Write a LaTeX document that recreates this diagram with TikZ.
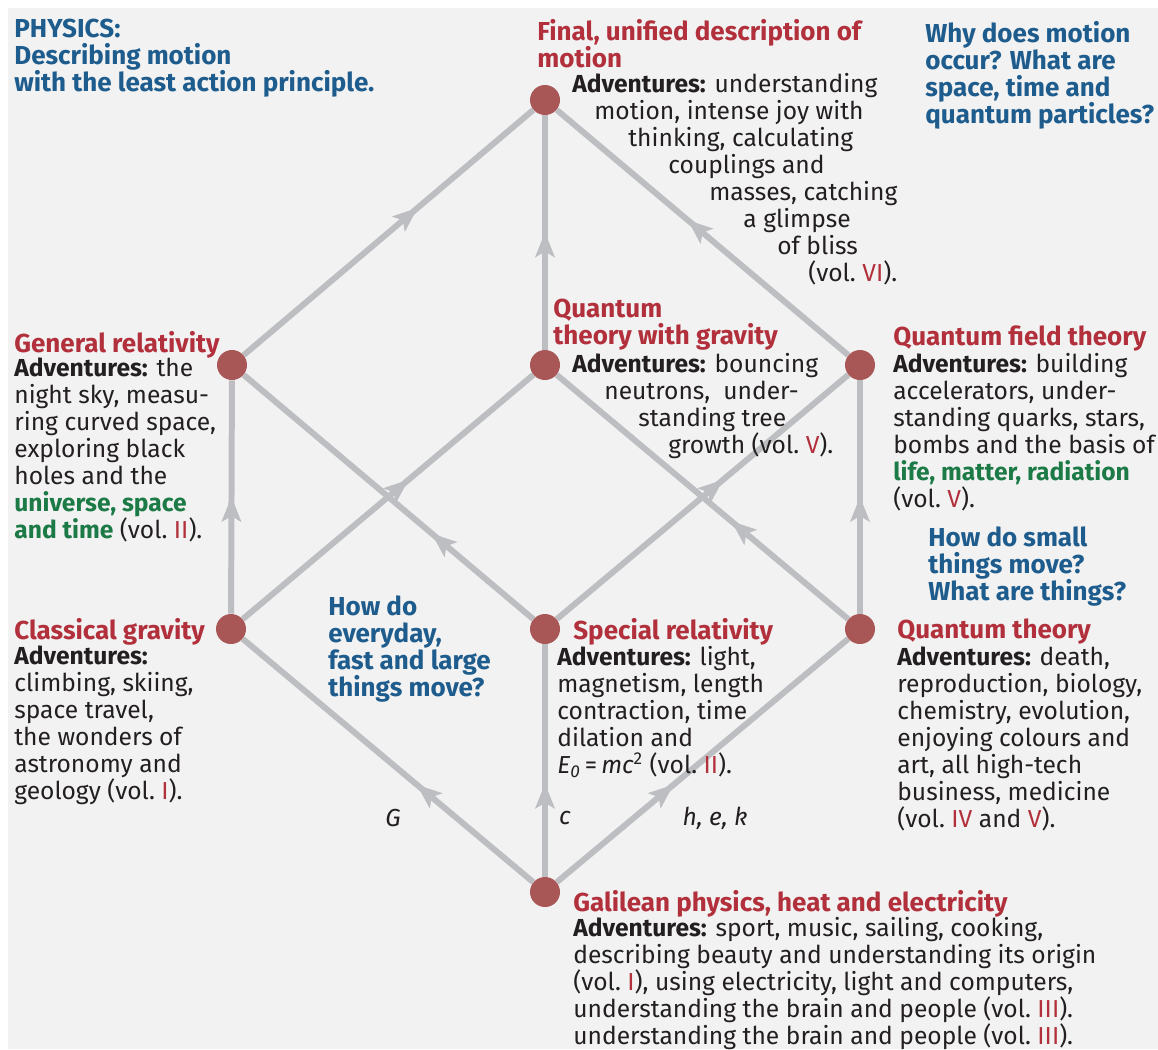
\documentclass[tikz,border=0pt]{standalone}
\usepackage{fontspec}
\setmainfont{Fira Sans}
\usetikzlibrary{arrows.meta,decorations.markings,backgrounds}
\definecolor{bgcol}{HTML}{F2F2F2}
\definecolor{linecol}{HTML}{BDBEC2}
\definecolor{dotcol}{HTML}{A85656}
\definecolor{headred}{HTML}{B2303B}
\definecolor{askblue}{HTML}{1D5C8C}
\definecolor{keygreen}{HTML}{1B7A45}
\definecolor{txtcol}{HTML}{231F20}
\newlength\pxl
\setlength\pxl{0.02cm}
\newcommand\vnr[1]{\textcolor{headred}{#1}}
\newcommand\adv{\textbf{Adventures:}}
\newcommand\key[1]{\textcolor{keygreen}{\bfseries #1}}
\newcommand\ind[1]{\hspace*{#1\pxl}}
\begin{document}
\begin{tikzpicture}[x=0.02cm,y=-0.02cm,
  every node/.style={font=\fontsize{14}{15.37}\selectfont,text=txtcol},
  txt/.style={anchor=north west,align=left,inner sep=0pt},
  head/.style={txt,text=headred,font=\fontsize{14.8}{15.37}\selectfont\bfseries},
  ask/.style={txt,text=askblue,font=\fontsize{14.8}{15.37}\selectfont\bfseries},
  const/.style={inner sep=0pt,font=\fontsize{14}{15.37}\selectfont\itshape},
  dot/.style={circle,fill=dotcol,minimum size=0.6cm,inner sep=0pt},
  link/.style={draw=linecol,line width=3.4pt},
  up/.style={postaction={decorate,decoration={markings,
    mark=at position #1 with {\arrow[linecol,line width=0.4pt]{Stealth[length=0.5cm,width=0.4cm,inset=0.12cm]}}}}}]
\useasboundingbox (0,0) rectangle (1158,1049);

% Punkte
\node[dot] (fin) at (545,100) {};
\node[dot] (gr) at (232,365) {};
\node[dot] (qg) at (545,365) {};
\node[dot] (qft) at (860,365) {};
\node[dot] (cg) at (231,629) {};
\node[dot] (sr) at (545,629) {};
\node[dot] (qt) at (860,629) {};
\node[dot] (gal) at (545,892) {};

\begin{scope}[on background layer]
\fill[bgcol] (8,8) rectangle (1158,1049);
\draw[link,up=0.6] (gr) -- (fin);
\draw[link,up=0.5] (qg) -- (fin);
\draw[link,up=0.55] (qft) -- (fin);
\draw[link,up=0.5] (cg) -- (gr);
\draw[link,up=0.57] (cg) -- (qg);
\draw[link,up=0.35] (sr) -- (gr);
\draw[link,up=0.57] (sr) -- (qft);
\draw[link,up=0.4] (qt) -- (qg);
\draw[link,up=0.5] (qt) -- (qft);
\draw[link,up=0.4] (gal) -- (cg);
\draw[link,up=0.4] (gal) -- (sr);
\draw[link,up=0.4] (gal) -- (qt);
\end{scope}

% Fragen
\node[ask] (qphys) at (14,19) {PHYSICS:\\Describing motion\\with the least action principle.};
\node[ask] (qwhy) at (925,21) {Why does motion\\occur? What are\\space, time and\\quantum particles?};
\node[ask] (qsmall) at (928,526) {How do small\\things move?\\What are things?};
\node[ask] (qlarge) at (328,595) {How do\\everyday,\\fast and large\\things move?};

% Oben
\node[head] (hfin) at (537,19) {Final, unified description of\\motion};
\node[txt] (tfin) at (572,73) {\adv{} understanding\\
\ind{22}motion, intense joy with\\
\ind{56}thinking, calculating\\
\ind{96}couplings and\\
\ind{137}masses, catching\\
\ind{171}a glimpse\\
\ind{205}of bliss\\
\ind{236}(vol.\ \vnr{VI}).};

% Mitte
\node[head] (hgr) at (14,331) {General relativity};
\node[txt] (tgr) at (14,357) {\adv{} the\\night sky, measu-\\ring curved space,\\exploring black\\holes and the\\\key{universe, space}\\\key{and time} (vol.\ \vnr{II}).};
\node[head] (hqg) at (553,299) {Quantum\\theory with gravity};
\node[txt] (tqg) at (572,353) {\adv{} bouncing\\
\ind{32}neutrons, \ under-\\
\ind{66}standing tree\\
\ind{96}growth (vol.\ \vnr{V}).};
\node[head] (hqft) at (893,325) {Quantum field theory};
\node[txt] (tqft) at (893,353) {\adv{} building\\accelerators, under-\\standing quarks, stars,\\bombs and the basis of\\\key{life, matter, radiation}\\(vol.\ \vnr{V}).};

% Unten
\node[head] (hcg) at (14,618) {Classical gravity};
\node[txt] (tcg) at (14,645) {\adv\\climbing, skiing,\\space travel,\\the wonders of\\astronomy and\\geology (vol.\ \vnr{I}).};
\node[head] (hsr) at (573,618) {Special relativity};
\node[txt] (tsr) at (557,646) {\adv{} light,\\magnetism, length\\contraction, time\\dilation and\\\textit{E}\textsubscript{\textit{0}}\,=\,\textit{mc}\textsuperscript{2} (vol.\ \vnr{II}).};
\node[head] (hqt) at (897,618) {Quantum theory};
\node[txt] (tqt) at (897,646) {\adv{} death,\\reproduction, biology,\\chemistry, evolution,\\enjoying colours and\\art, all high-tech\\business, medicine\\(vol.\ \vnr{IV} and \vnr{V}).};

\node[const] (kG) at (393,818) {G};
\node[const] (kc) at (565,818) {c};
\node[const] (khek) at (715,818) {h, e, k};

\node[head] (hgal) at (573,890) {Galilean physics, heat and electricity};
\node[txt] (tgal) at (573,917) {\adv{} sport, music, sailing, cooking,\\describing beauty and understanding its origin\\(vol.\ \vnr{I}), using electricity, light and computers,\\understanding the brain and people (vol.\ \vnr{III}).\\understanding the brain and people (vol.\ \vnr{III}).};
\end{tikzpicture}
\end{document}
